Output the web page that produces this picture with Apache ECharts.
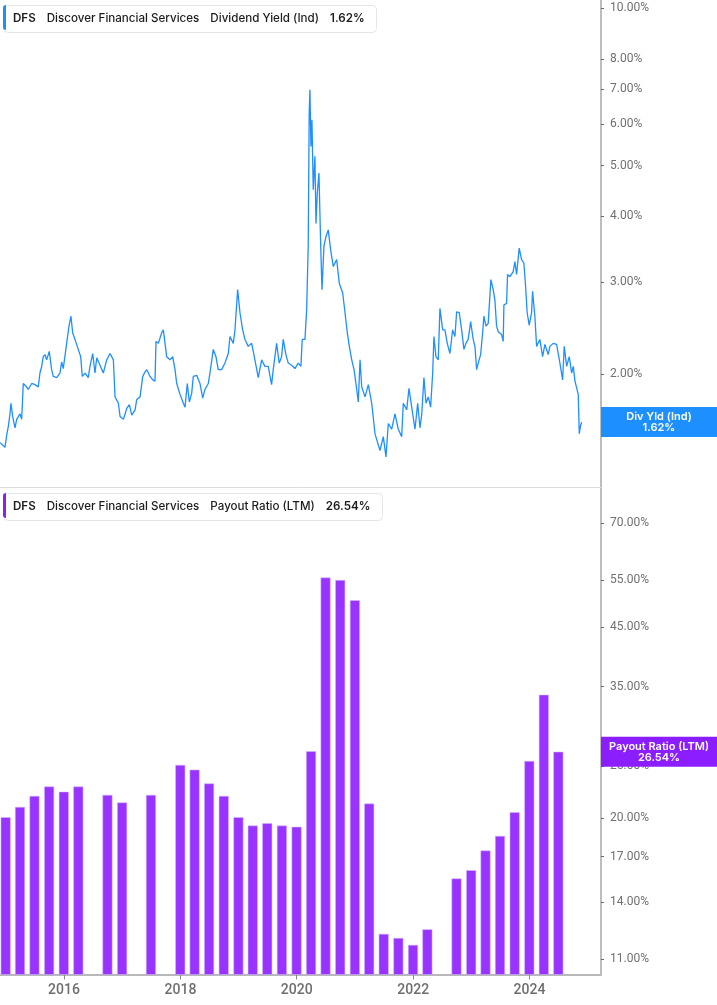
<!DOCTYPE html>
<html><head><meta charset="utf-8">
<script src="https://cdn.jsdelivr.net/npm/echarts@6/dist/echarts.min.js"></script>
<style>html,body{margin:0;padding:0;background:#fff}#c{width:717px;height:1005px}</style>
</head><body><div id="c"></div><script>
// Dividend yield (%) — dates as decimal years
const yieldDates = [
2014.900,2014.929,2014.986,2015.015,2015.043,2015.072,2015.089,2015.118,2015.158,2015.187,
2015.244,2015.273,2015.300,2015.359,2015.386,2015.445,2015.501,2015.558,2015.587,2015.617,
2015.644,2015.673,2015.702,2015.747,2015.788,2015.816,2015.874,2015.931,2015.960,2015.988,
2016.046,2016.086,2016.120,2016.149,2016.189,2016.245,2016.287,2016.314,2016.361,2016.417,
2016.446,2016.493,2016.532,2016.562,2016.618,2016.675,2016.733,2016.790,2016.847,2016.876,
2016.933,2016.962,2017.019,2017.077,2017.122,2017.163,2017.220,2017.249,2017.306,2017.352,
2017.391,2017.421,2017.477,2017.524,2017.563,2017.580,2017.620,2017.678,2017.706,2017.735,
2017.764,2017.821,2017.867,2017.907,2017.936,2017.993,2018.050,2018.079,2018.118,2018.153,
2018.194,2018.221,2018.280,2018.336,2018.383,2018.422,2018.479,2018.508,2018.565,2018.611,
2018.651,2018.709,2018.766,2018.823,2018.852,2018.909,2018.938,2018.984,2019.024,2019.070,
2019.110,2019.166,2019.225,2019.281,2019.338,2019.397,2019.453,2019.510,2019.568,2019.596,
2019.654,2019.699,2019.740,2019.768,2019.814,2019.854,2019.912,2019.969,2020.025,2020.072,
2020.094,2020.141,2020.170,2020.197,2020.214,2020.226,2020.244,2020.261,2020.283,2020.312,
2020.330,2020.352,2020.381,2020.410,2020.433,2020.467,2020.501,2020.541,2020.582,2020.627,
2020.685,2020.730,2020.788,2020.828,2020.867,2020.902,2020.943,2020.983,2021.029,2021.056,
2021.086,2021.115,2021.172,2021.228,2021.287,2021.343,2021.373,2021.429,2021.486,2021.532,
2021.572,2021.630,2021.687,2021.744,2021.802,2021.830,2021.888,2021.928,2021.974,2022.031,
2022.077,2022.117,2022.146,2022.185,2022.220,2022.259,2022.300,2022.335,2022.357,2022.391,
2022.431,2022.460,2022.507,2022.546,2022.586,2022.632,2022.678,2022.718,2022.747,2022.792,
2022.833,2022.873,2022.907,2022.946,2022.988,2023.032,2023.062,2023.091,2023.118,2023.160,
2023.194,2023.216,2023.251,2023.290,2023.336,2023.376,2023.405,2023.434,2023.462,2023.520,
2023.548,2023.560,2023.606,2023.623,2023.663,2023.720,2023.749,2023.778,2023.823,2023.864,
2023.903,2023.933,2023.960,2023.995,2024.036,2024.053,2024.092,2024.122,2024.178,2024.225,
2024.264,2024.321,2024.350,2024.407,2024.465,2024.493,2024.522,2024.568,2024.596,2024.637,
2024.682,2024.723,2024.751,2024.780,2024.809,2024.836,2024.854,2024.878,2024.895];
const yieldValues = [
1.48,1.47,1.45,1.53,1.59,1.68,1.76,1.66,1.58,1.64,
1.68,1.64,1.92,1.89,1.87,1.92,1.91,1.89,2.01,2.07,
2.16,2.18,2.13,2.21,2.04,1.98,1.97,2.01,2.11,2.05,
2.29,2.47,2.58,2.40,2.33,2.23,2.16,1.98,2.01,1.97,
2.07,2.19,2.01,2.15,2.08,2.01,2.13,2.19,2.13,1.81,
1.76,1.66,1.64,1.72,1.75,1.67,1.71,1.79,1.81,1.98,
2.02,2.04,1.98,1.95,1.94,2.31,2.29,2.40,2.43,2.29,
2.16,2.13,2.16,2.04,1.92,1.83,1.76,1.73,1.92,1.77,
1.84,1.98,1.99,1.92,1.80,1.87,1.92,2.01,2.23,2.16,
2.04,2.04,2.10,2.19,2.36,2.29,2.43,2.90,2.62,2.43,
2.33,2.26,2.29,2.13,1.97,2.13,2.07,2.07,1.91,2.04,
2.29,2.10,2.16,2.33,2.18,2.10,2.08,2.05,2.10,2.07,
2.33,2.33,2.65,3.51,6.30,6.98,5.44,6.12,4.50,5.21,
3.88,4.43,4.84,3.56,2.90,3.51,3.66,3.77,3.45,3.21,
3.31,2.98,2.86,2.62,2.40,2.26,2.13,2.04,1.87,1.77,
2.13,1.89,1.81,1.91,1.76,1.54,1.50,1.43,1.52,1.39,
1.61,1.57,1.68,1.57,1.52,1.76,1.71,1.88,1.73,1.57,
1.76,1.58,1.67,1.97,1.76,1.81,1.73,2.01,2.36,2.16,
2.13,2.67,2.43,2.43,2.29,2.19,2.43,2.36,2.63,2.62,
2.43,2.23,2.29,2.33,2.52,2.33,2.26,2.04,2.10,2.18,
2.40,2.58,2.47,2.50,3.03,2.90,2.77,2.47,2.41,2.38,
2.31,2.71,2.73,3.10,3.07,3.14,3.28,3.10,3.48,3.31,
3.26,2.94,2.62,2.48,2.62,2.88,2.58,2.26,2.33,2.16,
2.28,2.18,2.26,2.29,2.28,2.19,2.10,1.95,2.26,2.07,
2.16,2.01,2.07,1.94,1.95,1.83,1.54,1.60,1.62];

// Payout ratio (LTM, %) — quarterly
const payoutDates = ['2014-12-31','2015-03-31','2015-06-30','2015-09-30','2015-12-31','2016-03-31',
'2016-09-30','2016-12-31','2017-06-30','2017-12-31','2018-03-31','2018-06-30','2018-09-30','2018-12-31',
'2019-03-31','2019-06-30','2019-09-30','2019-12-31','2020-03-31','2020-06-30','2020-09-30','2020-12-31',
'2021-03-31','2021-06-30','2021-09-30','2021-12-31','2022-03-31','2022-09-30','2022-12-31',
'2023-03-31','2023-06-30','2023-09-30','2023-12-31','2024-03-31','2024-06-30'];
const payoutValues = [20.1,21.0,22.0,22.9,22.4,22.9,
22.1,21.4,22.1,25.1,24.6,23.2,22.0,20.1,
19.4,19.6,19.4,19.3,26.6,55.6,55.0,50.5,
21.3,12.25,12.04,11.69,12.49,15.5,16.05,
17.45,18.57,20.53,25.52,33.8,26.54];

const yieldTicks = [2,3,4,5,6,7,8,10];
const payoutTicks = [11,14,17,20,25,35,45,55,70];
const yearTicks = [2016,2018,2020,2022,2024];

function dy(y){const Y=Math.floor(y);const a=Date.UTC(Y,0,1),b=Date.UTC(Y+1,0,1);return a+(y-Y)*(b-a);}
const xMin = dy(2014.900), xMax = dy(2025.227);
const lastYield = yieldValues[yieldValues.length-1];
const lastPayout = payoutValues[payoutValues.length-1];
const BLUE = '#1e8fff', PURPLE = '#9933ff', PURPLE_DARK = '#8b1dff';

const pct = v => v.toFixed(2) + '%';
const richStyle = {
  a:{fontFamily:'Inter', fontSize:11.6, fontWeight:600, color:'#1c1c1c', lineHeight:15},
  b:{fontFamily:'Inter', fontSize:11.6, fontWeight:500, color:'#1c1c1c', lineHeight:15},
  g:{width:11}
};
function yAxisCfg(grid, min, max, ticks){
  return {type:'log', logBase:10, gridIndex:grid, position:'right', min:min, max:max,
    axisLine:{show:true, lineStyle:{color:'#bdbdbd', width:2}},
    axisTick:{show:true, length:3, customValues:ticks, lineStyle:{color:'#666', width:1}},
    axisLabel:{customValues:ticks, formatter:pct, color:'#707070', fontSize:12, fontFamily:'Roboto', margin:9},
    splitLine:{show:false}};
}
const yearStamps = yearTicks.map(y=>Date.UTC(y,0,1));
const option = {
  animation:false,
  backgroundColor:'#fff',
  title:[
    {left:3, top:5, padding:[5,12,5,10], borderColor:'#e6e6e6', borderWidth:1, borderRadius:4, backgroundColor:'#fff',
     text:'{a|DFS}{g|}{b|Discover Financial Services}{g|}{b|Dividend Yield (Ind)}{g|}{a|'+pct(lastYield)+'}',
     textStyle:{rich:richStyle}},
    {left:3, top:493, padding:[5,12,5,10], borderColor:'#e6e6e6', borderWidth:1, borderRadius:4, backgroundColor:'#fff',
     text:'{a|DFS}{g|}{b|Discover Financial Services}{g|}{b|Payout Ratio (LTM)}{g|}{a|'+pct(lastPayout)+'}',
     textStyle:{rich:richStyle}}
  ],
  grid:[{left:0, right:116, top:0, height:487}, {left:0, right:116, top:488, height:486.5}],
  xAxis:[
    {type:'value', gridIndex:0, min:xMin, max:xMax,
     axisLine:{show:true, lineStyle:{color:'#dcdcdc', width:1}}, axisTick:{show:false}, axisLabel:{show:false}, splitLine:{show:false}},
    {type:'value', gridIndex:1, min:xMin, max:xMax,
     axisLine:{show:true, lineStyle:{color:'#b8b8b8', width:2}},
     axisTick:{show:true, length:5, customValues:yearStamps, lineStyle:{color:'#888'}},
     axisLabel:{customValues:yearStamps, formatter:v=>String(new Date(v).getUTCFullYear()),
       color:'#6e6e6e', fontSize:14, fontWeight:500, fontFamily:'Roboto', margin:9},
     splitLine:{show:false}}
  ],
  yAxis:[yAxisCfg(0, 1.218, 10.358, yieldTicks), yAxisCfg(1, 10.31, 81.3, payoutTicks)],
  series:[
    {type:'line', xAxisIndex:0, yAxisIndex:0, showSymbol:false, symbol:'none',
     data:yieldDates.map((d,i)=>[dy(d), yieldValues[i]]), lineStyle:{color:BLUE, width:1.3}},
    {type:'bar', xAxisIndex:1, yAxisIndex:1, barWidth:10,
     data:payoutDates.map((d,i)=>[Date.parse(d+'T00:00:00Z'), payoutValues[i]]),
     itemStyle:{color:PURPLE, borderColor:'rgba(210,180,255,0.9)', borderWidth:0.6}}
  ]
};
const chart = echarts.init(document.getElementById('c'));
chart.setOption(option);
const p1 = chart.convertToPixel({yAxisIndex:0}, lastYield);
const p2 = chart.convertToPixel({yAxisIndex:1}, lastPayout);
chart.setOption({graphic:[
  {type:'rect', z:110, shape:{x:3, y:5, width:3, height:25, r:[3,0,0,3]}, style:{fill:BLUE}},
  {type:'rect', z:110, shape:{x:3, y:493, width:3, height:25, r:[3,0,0,3]}, style:{fill:PURPLE_DARK}},
  {type:'rect', z:100, shape:{x:601, y:p1-15, width:116, height:30}, style:{fill:BLUE}},
  {type:'text', z:101, x:659, y:p1, style:{text:'Div Yld (Ind)\n'+pct(lastYield), fill:'#fff', fontFamily:'Inter', fontSize:11, fontWeight:600, align:'center', verticalAlign:'middle', lineHeight:11}},
  {type:'rect', z:100, shape:{x:601, y:p2-15, width:116, height:30}, style:{fill:PURPLE_DARK}},
  {type:'text', z:101, x:659, y:p2, style:{text:'Payout Ratio (LTM)\n'+pct(lastPayout), fill:'#fff', fontFamily:'Inter', fontSize:11, fontWeight:600, align:'center', verticalAlign:'middle', lineHeight:11}}
]});
</script></body></html>
